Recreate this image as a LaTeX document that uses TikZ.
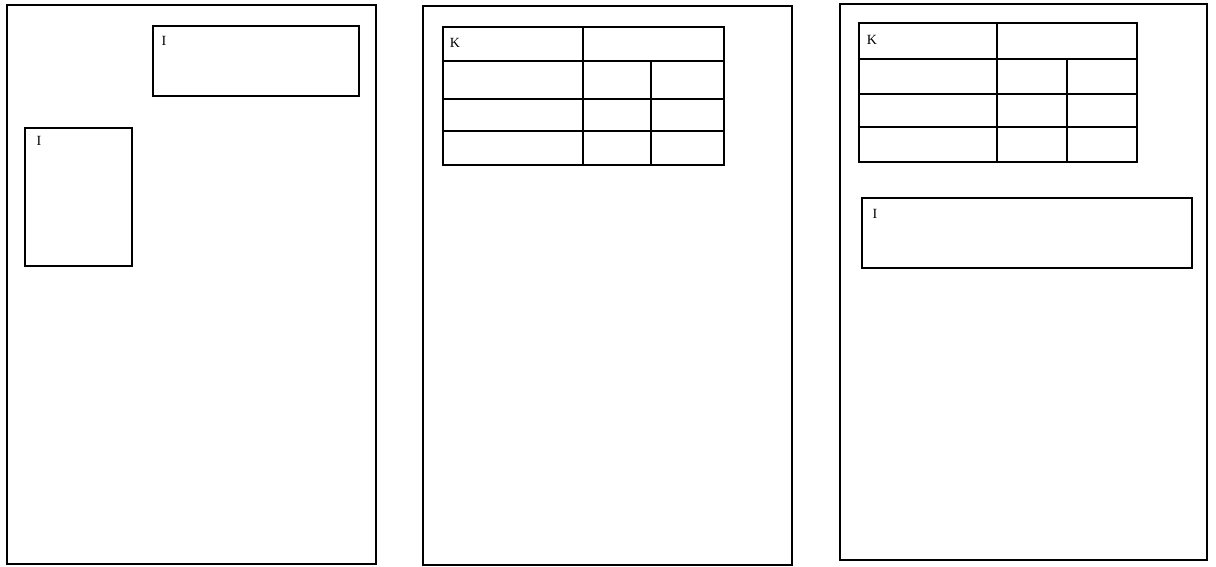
\documentclass[tikz,border=0pt]{standalone}
\usepackage{fontspec}
\setmainfont{Liberation Serif}
\begin{document}
\begin{tikzpicture}[x=1pt,y=-1pt,
  page/.style={draw=black,line width=2pt},
  box/.style={draw=black,line width=1.5pt},
  grid/.style={draw=black,line width=1.4pt},
  lbl/.style={anchor=center,inner sep=0pt,font=\fontsize{14}{16}\selectfont}]
\useasboundingbox (0,0) rectangle (1216,567);
% page 1
\draw[page] (7,5) rectangle (376,564);
\draw[box] (153,26) rectangle (359,96);
\node[lbl] (l1) at (164,41) {I};
\draw[box] (25,128) rectangle (132,266);
\node[lbl] (l2) at (39,141) {I};
% page 2
\draw[page] (423,6) rectangle (792,565);
\draw[grid] (443,27) rectangle (724,165);
\draw[grid] (443,61) -- (724,61);
\draw[grid] (443,99) -- (724,99);
\draw[grid] (443,131) -- (724,131);
\draw[grid] (583,27) -- (583,165);
\draw[grid] (651,61) -- (651,165);
\node[lbl] (k1) at (455,43) {K};
% page 3
\draw[page] (840,4) rectangle (1207,560);
\draw[grid] (859,23) rectangle (1137,162);
\draw[grid] (859,59) -- (1137,59);
\draw[grid] (859,94) -- (1137,94);
\draw[grid] (859,127) -- (1137,127);
\draw[grid] (997,23) -- (997,162);
\draw[grid] (1067,59) -- (1067,162);
\node[lbl] (k2) at (872,40) {K};
\draw[box] (862,198) rectangle (1192,268);
\node[lbl] (l3) at (875,214) {I};
\end{tikzpicture}
\end{document}
